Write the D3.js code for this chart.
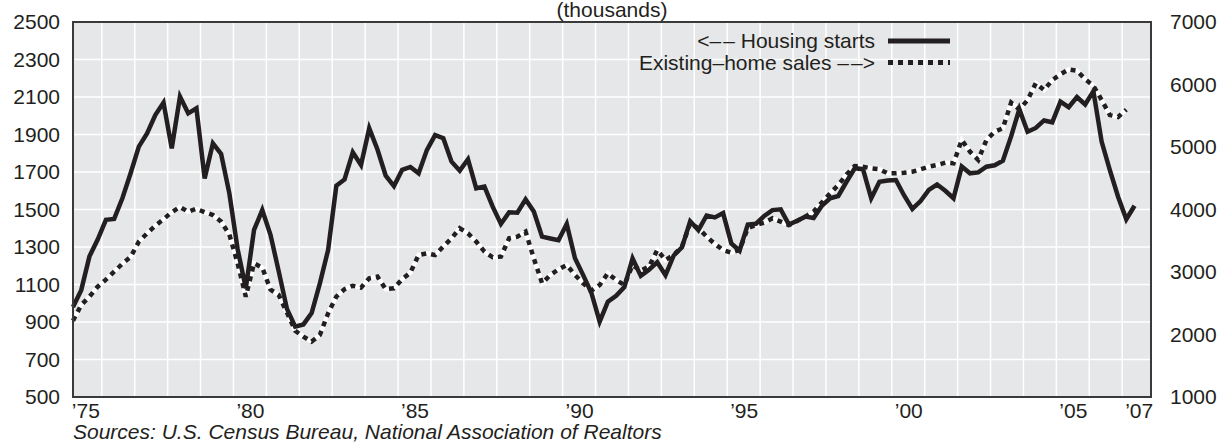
<!DOCTYPE html>
<meta charset="utf-8">
<script src="https://d3js.org/d3.v7.min.js"></script>
<style>
  body { margin: 0; background: #fff; }
  text { font-family: "Liberation Sans", Arial, Helvetica, sans-serif; fill: #231f20; }
</style>
<body>
<div id="draw"></div>
<script>

  // quarterly housing starts, 1975Q1 - 2007Q2 (thousands, left axis)
  var starts = [
    980, 1070, 1250, 1340,   1445, 1450, 1560, 1693,   1835, 1906, 2004, 2070,
    1826, 2102, 2013, 2040,  1666, 1853, 1796, 1586,   1290, 1080, 1391, 1497,
    1365, 1170, 970, 875,    887, 948, 1106, 1284,     1627, 1660, 1805, 1737,
    1933, 1820, 1680, 1625,  1712, 1727, 1693, 1817,   1897, 1880, 1755, 1707,
    1768, 1613, 1622, 1515,  1423, 1485, 1483, 1554,   1489, 1355, 1345, 1336,
    1423, 1240, 1150, 1055,  902, 1008, 1040, 1086,    1239, 1146, 1179, 1219,
    1150, 1255, 1298, 1437,  1390, 1468, 1458, 1481,   1319, 1280, 1420, 1424,
    1466, 1497, 1501, 1420,  1440, 1462, 1455, 1520,   1560, 1572, 1648, 1720,
    1715, 1560, 1648, 1655,  1657, 1575, 1503, 1545,   1605, 1633, 1600, 1560,
    1729, 1693, 1698, 1728,  1736, 1760, 1890, 2035,   1915, 1935, 1975, 1965,
    2075, 2046, 2100, 2060,  2131, 1862, 1710, 1568,   1448, 1520
  ];

  // quarterly existing-home sales, 1975Q1 - 2007Q1 (thousands, right axis)
  var sales = [
    2220, 2472, 2605, 2765,  2878, 3005, 3133, 3240,   3485, 3619, 3740, 3845,
    3957, 4040, 3965, 4011,  3957, 3912, 3806, 3600,   3140, 2606, 3139, 3070,
    2718, 2632, 2350, 2060,  1966, 1886, 1992, 2339,   2606, 2725, 2780, 2750,
    2899, 2926, 2725, 2739,  2885, 2990, 3272, 3299,   3272, 3406, 3539, 3700,
    3619, 3486, 3326, 3235,  3246, 3539, 3566, 3646,   3219, 2819, 2952, 3043,
    3112, 2952, 2819, 2702,  2792, 2979, 2872, 2792,   3112, 3022, 3086, 3352,
    3192, 3272, 3406, 3779,  3699, 3566, 3448, 3352,   3310, 3352, 3699, 3752,
    3790, 3859, 3806, 3752,  3816, 3886, 3966, 4110,   4259, 4392, 4560, 4696,
    4685, 4659, 4643, 4579,  4579, 4589, 4605, 4643,   4685, 4712, 4749, 4739,
    5112, 4925, 4792, 5112,  5245, 5300, 5710, 5600,   5750, 6019, 5912, 6070,
    6165, 6240, 6220, 6085,  5980, 5752, 5512, 5480,   5598
  ];

  var leftTicks = [500, 700, 900, 1100, 1300, 1500, 1700, 1900, 2100, 2300, 2500];
  var rightTicks = [1000, 2000, 3000, 4000, 5000, 6000, 7000];
  var xTickYears = [1975, 1980, 1985, 1990, 1995, 2000, 2005, 2007];
  var xTickLabels = ["\u201975", "\u201980", "\u201985", "\u201990", "\u201995", "\u201900", "\u201905", "\u201907"];
  var gridYears = d3.range(1976, 2008);

  var width = 1224, height = 443;
  var plot = {left: 73, right: 1151, top: 22, bottom: 397};
  var fs = 21;

  var svg = d3.select("#draw").append("svg")
    .attr("width", width).attr("height", height);

  // quarter index -> mid-quarter decimal year
  var qTime = function(i) { return 1975 + i / 4 + 0.125; };

  var x = d3.scaleLinear().domain([1975.125, 2007.875]).range([plot.left, plot.right]);
  var yL = d3.scaleLinear().domain([500, 2500]).range([plot.bottom, plot.top]);
  var yR = d3.scaleLinear().domain([1000, 7000]).range([plot.bottom, plot.top]);

  svg.append("rect")
    .attr("x", plot.left).attr("y", plot.top)
    .attr("width", plot.right - plot.left).attr("height", plot.bottom - plot.top)
    .attr("fill", "#e6e7e8");

  // grid
  svg.append("g").selectAll("line").data(leftTicks.slice(1, -1)).enter().append("line")
    .attr("x1", plot.left).attr("x2", plot.right)
    .attr("y1", function(d){ return yL(d); }).attr("y2", function(d){ return yL(d); })
    .attr("stroke", "#fff").attr("stroke-width", 1.5);
  svg.append("g").selectAll("line").data(gridYears).enter().append("line")
    .attr("y1", plot.top).attr("y2", plot.bottom)
    .attr("x1", function(d){ return x(d); }).attr("x2", function(d){ return x(d); })
    .attr("stroke", "#fff").attr("stroke-width", 1.5);

  // lines
  var startsLine = d3.line()
    .x(function(d, i){ return x(qTime(i)); })
    .y(function(d){ return yL(d); });
  var salesLine = d3.line()
    .x(function(d, i){ return x(qTime(i)); })
    .y(function(d){ return yR(d); });

  svg.append("path").datum(sales).attr("d", salesLine)
    .attr("fill", "none").attr("stroke", "#fff").attr("stroke-width", 4.5);
  svg.append("path").datum(sales).attr("d", salesLine)
    .attr("fill", "none").attr("stroke", "#231f20").attr("stroke-width", 4.5)
    .attr("stroke-dasharray", "5,5");
  svg.append("path").datum(starts).attr("d", startsLine)
    .attr("fill", "none").attr("stroke", "#231f20").attr("stroke-width", 4.5);

  // frame
  svg.append("rect")
    .attr("x", plot.left).attr("y", plot.top)
    .attr("width", plot.right - plot.left).attr("height", plot.bottom - plot.top)
    .attr("fill", "none").attr("stroke", "#3a3a3a").attr("stroke-width", 2);

  // axes
  var axisL = svg.append("g").attr("transform", "translate(" + plot.left + ",0)")
    .call(d3.axisLeft(yL).tickValues(leftTicks).tickFormat(d3.format("d")).tickSize(0).tickPadding(13));
  var axisR = svg.append("g").attr("transform", "translate(" + plot.right + ",0)")
    .call(d3.axisRight(yR).tickValues(rightTicks).tickFormat(d3.format("d")).tickSize(0).tickPadding(19));
  var axisB = svg.append("g").attr("transform", "translate(0," + plot.bottom + ")")
    .call(d3.axisBottom(x).tickValues(xTickYears.map(function(d){ return d + 0.5; }))
      .tickFormat(function(d, i){ return xTickLabels[i]; }).tickSize(0).tickPadding(6));
  [axisL, axisR, axisB].forEach(function(a){
    a.select(".domain").remove();
    a.selectAll("text").attr("font-size", fs).attr("font-family", "Liberation Sans, Arial, sans-serif").attr("fill", "#231f20");
  });

  // title
  svg.append("text").attr("x", (plot.left + plot.right) / 2).attr("y", 17)
    .attr("text-anchor", "middle").attr("font-size", fs).text("(thousands)");

  // legend
  var legend = svg.append("g");
  var t1 = legend.append("text").attr("x", 875).attr("y", 48).attr("text-anchor", "end")
    .attr("font-size", fs);
  t1.append("tspan").text("<\u2013");
  t1.append("tspan").attr("dx", 2).text("\u2013 Housing starts");
  var t2 = legend.append("text").attr("x", 875).attr("y", 70).attr("text-anchor", "end")
    .attr("font-size", fs);
  t2.append("tspan").text("Existing\u2013home sales \u2013");
  t2.append("tspan").attr("dx", 2).text("\u2013>");
  legend.append("line").attr("x1", 888).attr("x2", 950).attr("y1", 41).attr("y2", 41)
    .attr("stroke", "#231f20").attr("stroke-width", 5);
  legend.append("line").attr("x1", 888).attr("x2", 950).attr("y1", 62.5).attr("y2", 62.5)
    .attr("stroke", "#231f20").attr("stroke-width", 5).attr("stroke-dasharray", "5,5");

  // source
  svg.append("text").attr("x", 73).attr("y", 439).attr("font-size", fs)
    .attr("font-style", "italic")
    .text("Sources: U.S. Census Bureau, National Association of Realtors");

</script>
</body>
